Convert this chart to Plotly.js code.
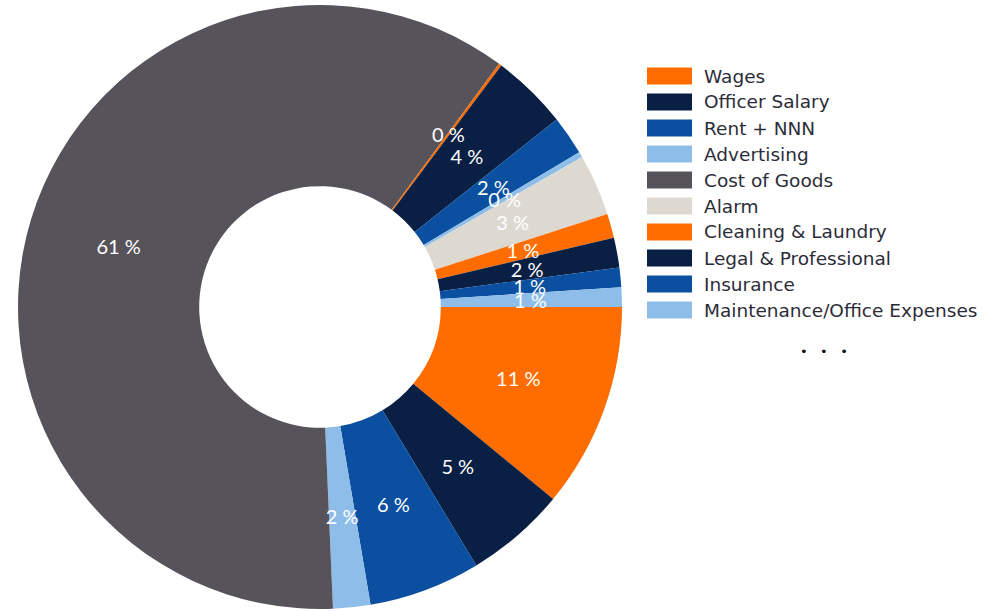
<!DOCTYPE html>
<html>
<head>
<meta charset="utf-8">
<script src="https://cdn.plot.ly/plotly-3.0.1.min.js"></script>
<style>html,body{margin:0;padding:0;background:#fff;}#chart{width:1006px;height:611px;}</style>
</head>
<body>
<div id="chart"></div>
<script>
// Slices, clockwise from 3 o'clock (share of total, %)
const sliceLabels = ['Wages', 'Officer Salary', 'Rent + NNN', 'Advertising', 'Cost of Goods',
  'Cleaning & Laundry', 'Legal & Professional', 'Insurance', 'Maintenance/Office Expenses', 'Alarm',
  'Other 1', 'Other 2', 'Other 3', 'Other 4'];
const sliceValues = [11, 5.4, 6, 2, 61, 0.15, 4.1, 2.1, 0.3, 3.3, 1.3, 1.6, 1.05, 1.05];
const sliceColors = ['#ff6d00', '#0a1f44', '#0a4fa0', '#8fbde9', '#57535b',
  '#ff6d00', '#0a1f44', '#0a4fa0', '#8fbde9', '#ddd9d1',
  '#ff6d00', '#0a1f44', '#0a4fa0', '#8fbde9'];

// Legend (first ten entries, then "...")
const legendLabels = ['Wages', 'Officer Salary', 'Rent + NNN', 'Advertising', 'Cost of Goods', 'Alarm',
  'Cleaning & Laundry', 'Legal & Professional', 'Insurance', 'Maintenance/Office Expenses'];
const legendColors = ['#ff6d00', '#0a1f44', '#0a4fa0', '#8fbde9', '#57535b', '#ddd9d1',
  '#ff6d00', '#0a1f44', '#0a4fa0', '#8fbde9'];

const W = 1006, H = 611;
const px = x => x / W;
const py = y => 1 - y / H;
const CX = 320, CY = 307, R = 302, R_TEXT = 216;

const common = {
  type: 'pie',
  sort: false,
  direction: 'clockwise',
  rotation: 90,
  showlegend: false,
  hoverinfo: 'label+percent'
};

// ring
const ring = Object.assign({}, common, {
  labels: sliceLabels,
  values: sliceValues,
  marker: {colors: sliceColors, line: {width: 0}},
  hole: 0.4,
  textinfo: 'none',
  domain: {x: [px(CX - R), px(CX + R)], y: [py(CY + R), py(CY - R)]}
});

// percentage labels along the middle of the ring: an invisible thin ring with the
// same slices; a very large slice is split so its label sits at its middle angle
const total = sliceValues.reduce((a, b) => a + b, 0);
const tLabels = [], tValues = [], tText = [];
sliceValues.forEach((v, i) => {
  const txt = Math.round(v) + ' %';
  if (v > 0.2 * total) {
    const core = 0.08 * total, side = (v - core) / 2;
    tLabels.push(sliceLabels[i] + ' a', sliceLabels[i], sliceLabels[i] + ' b');
    tValues.push(side, core, side);
    tText.push('', txt, '');
  } else {
    tLabels.push(sliceLabels[i]);
    tValues.push(v);
    tText.push(txt);
  }
});
const labelsRing = Object.assign({}, common, {
  labels: tLabels,
  values: tValues,
  text: tText,
  marker: {colors: tLabels.map(() => 'rgba(0,0,0,0)'), line: {width: 0}},
  hole: 0.95,
  textposition: 'inside',
  insidetextorientation: 'horizontal',
  texttemplate: '%{text}',
  textfont: {family: 'Lato, sans-serif', size: 20, color: '#ffffff'},
  domain: {x: [px(CX - R_TEXT), px(CX + R_TEXT)], y: [py(CY + R_TEXT), py(CY - R_TEXT)]}
});

const shapes = [];
const annotations = [];
legendLabels.forEach((lab, i) => {
  const cy = 76 + i * 26;
  shapes.push({type: 'rect', xref: 'paper', yref: 'paper',
    x0: px(647), x1: px(692), y0: py(cy - 8.5), y1: py(cy + 8.5),
    fillcolor: legendColors[i], line: {width: 0}});
  annotations.push({xref: 'paper', yref: 'paper', x: px(702), y: py(cy),
    xanchor: 'left', yanchor: 'middle', showarrow: false, text: lab,
    font: {family: 'DejaVu Sans, sans-serif', size: 18.5, color: '#2c2c38'}});
});
annotations.push({xref: 'paper', yref: 'paper', x: px(824), y: py(351),
  xanchor: 'center', yanchor: 'middle', showarrow: false, text: '•   •   •',
  font: {family: 'DejaVu Sans, sans-serif', size: 13, color: '#111111'}});

const layout = {
  width: W, height: H,
  margin: {l: 0, r: 0, t: 0, b: 0},
  paper_bgcolor: '#ffffff',
  plot_bgcolor: '#ffffff',
  showlegend: false,
  uniformtext: {minsize: 20, mode: 'show'},
  shapes: shapes,
  annotations: annotations
};

Plotly.newPlot('chart', [ring, labelsRing], layout, {displayModeBar: false, staticPlot: true});
</script>
</body>
</html>
